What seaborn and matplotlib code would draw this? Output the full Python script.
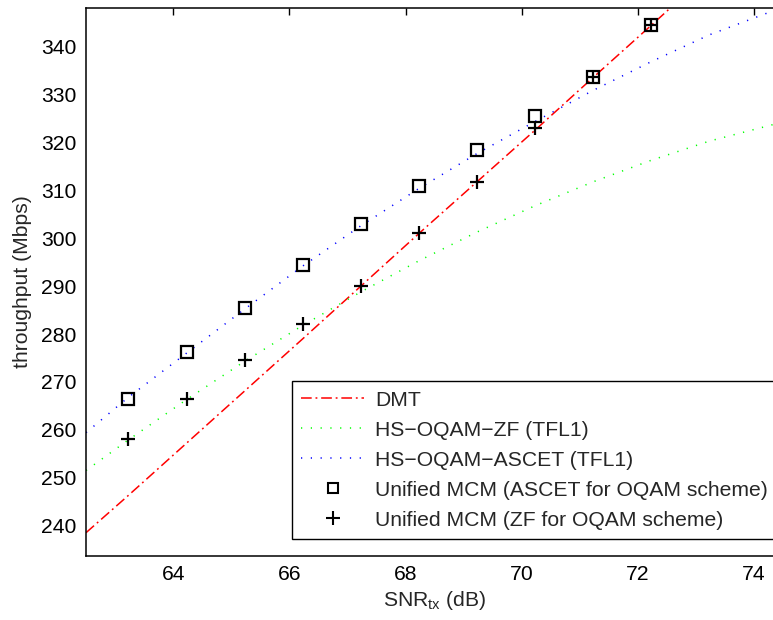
import matplotlib
matplotlib.use("Agg")
import matplotlib.pyplot as plt
import seaborn as sns
import numpy as np
import pandas as pd
from matplotlib.lines import Line2D

# ---- data ----
line_x = [62.5, 63.23, 64.23, 65.23, 66.23, 67.23, 68.23, 69.23, 70.23, 71.23, 72.23, 73.23, 74.5]
dmt = [238.5, 246.3, 257.2, 268.1, 279.0, 290.0, 301.0, 311.8, 322.6, 333.6, 344.5, 355.5, 369.0]
hs_zf = [251.5, 257.9, 266.3, 274.3, 281.8, 288.8, 295.3, 301.3, 306.8, 311.8, 316.3, 320.3, 324.3]
hs_ascet = [259.4, 266.8, 276.0, 285.2, 294.2, 302.6, 310.4, 317.7, 324.4, 330.9, 336.9, 342.5, 348.3]

mk_x = [63.23, 64.23, 65.23, 66.23, 67.23, 68.23, 69.23, 70.23, 71.23, 72.23]
mcm_ascet = [266.5, 276.2, 285.5, 294.5, 303.0, 311.0, 318.5, 325.5, 333.6, 344.5]
mcm_zf = [258.0, 266.5, 274.5, 282.0, 290.0, 301.0, 311.7, 323.0, 333.6, 344.5]

labels = ["DMT", "HS\u2212OQAM\u2212ZF (TFL1)", "HS\u2212OQAM\u2212ASCET (TFL1)",
          "Unified MCM (ASCET for OQAM scheme)", "Unified MCM (ZF for OQAM scheme)"]
xticks = [64, 66, 68, 70, 72, 74]
yticks = [240, 250, 260, 270, 280, 290, 300, 310, 320, 330, 340]

sns.set_style("white")
plt.rcParams['font.family'] = ['Liberation Sans', 'DejaVu Sans']
plt.rcParams['axes.linewidth'] = 1.1

FS = 15.2
fig = plt.figure(figsize=(7.73, 6.2), dpi=100)
W, H = 773, 620
x0, x1 = 62.5, 74.5
pxu = 58.1
ax = fig.add_axes([86 / W, 1 - 555.7 / H, (x1 - x0) * pxu / W, (555.7 - 8) / H])

DD = [7, 2.5, 1.2, 2.5]
DOT = [0.8, 5.6]

df = pd.DataFrame({"x": line_x, "dmt": dmt, "zf": hs_zf, "ascet": hs_ascet})
sns.lineplot(data=df, x="x", y="dmt", ax=ax, color=(1, 0, 0), lw=1.1,
             sort=False, estimator=None)
ax.lines[-1].set_dashes(DD)
sns.lineplot(data=df, x="x", y="zf", ax=ax, color=(0, 1, 0), lw=1.1,
             sort=False, estimator=None)
ax.lines[-1].set_dashes(DOT)
sns.lineplot(data=df, x="x", y="ascet", ax=ax, color=(0, 0, 1), lw=1.1,
             sort=False, estimator=None)
ax.lines[-1].set_dashes(DOT)

dm = pd.DataFrame({"x": mk_x, "sq": mcm_ascet, "pl": mcm_zf})
sns.lineplot(data=dm, x="x", y="sq", ax=ax, linestyle="none", marker="s",
             markersize=8.5, markerfacecolor="none", markeredgecolor="k",
             markeredgewidth=1.6, sort=False, estimator=None)
sns.lineplot(data=dm, x="x", y="pl", ax=ax, linestyle="none", marker="+",
             markersize=10, color="k", markeredgecolor="k",
             markeredgewidth=1.6, sort=False, estimator=None)

ax.set_xlim(x0, x1)
ax.set_ylim(233.7, 348.1)
ax.set_xticks(xticks)
ax.set_yticks(yticks)
ax.tick_params(direction="in", length=5, width=1, top=True, right=True,
               labelsize=FS, pad=7, colors="k")
for s in ax.spines.values():
    s.set_color("k")
ax.set_xlabel("SNR$_\\mathregular{tx}$ (dB)", fontsize=FS, labelpad=3)
ax.set_ylabel("throughput (Mbps)", fontsize=FS, labelpad=6)

handles = [
    Line2D([], [], color=(1, 0, 0), lw=1.1, dashes=DD),
    Line2D([], [], color=(0, 1, 0), lw=1.1, dashes=DOT),
    Line2D([], [], color=(0, 0, 1), lw=1.1, dashes=DOT),
    Line2D([], [], linestyle="none", marker="s", markersize=7, markerfacecolor="none",
           markeredgecolor="k", markeredgewidth=1.5),
    Line2D([], [], linestyle="none", marker="+", markersize=10, color="k",
           markeredgewidth=1.5),
]
leg = ax.legend(handles, labels, loc="lower left", mode="expand",
                bbox_to_anchor=(291.5 / W, 1 - 539 / H, 495 / W, 0.1),
                bbox_transform=fig.transFigure,
                fontsize=FS, frameon=True, fancybox=False, framealpha=1,
                edgecolor="k", borderpad=0.45, handlelength=3.0, handletextpad=0.5,
                labelspacing=0.52, borderaxespad=0)
leg.get_frame().set_linewidth(1.0)

fig.savefig("out.png", dpi=100)
